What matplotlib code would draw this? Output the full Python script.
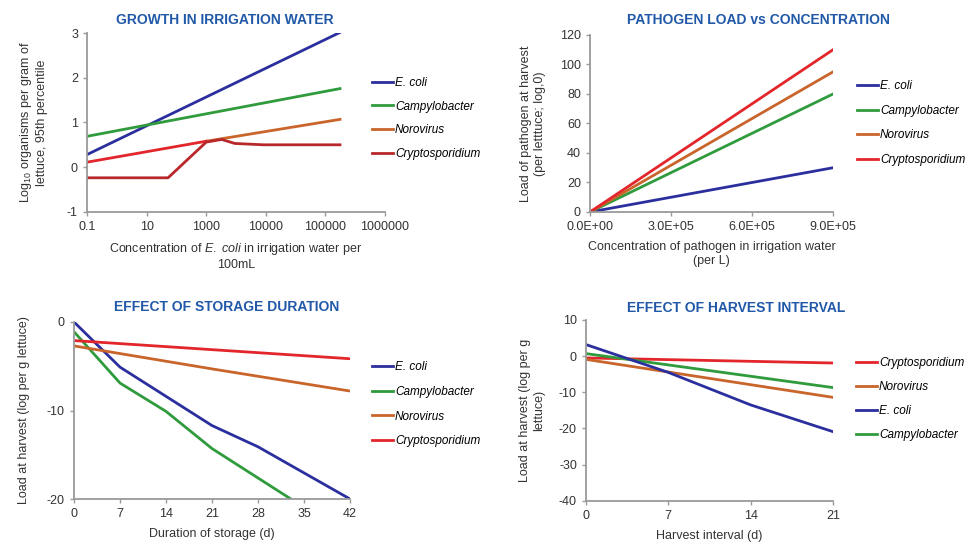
import matplotlib
matplotlib.use("Agg")
import matplotlib.pyplot as plt

plt.rcParams['font.family'] = ['Liberation Sans', 'DejaVu Sans']
plt.rcParams['axes.unicode_minus'] = False
plt.rcParams['mathtext.fontset'] = 'custom'
plt.rcParams['mathtext.rm'] = 'Liberation Sans'
plt.rcParams['mathtext.it'] = 'Liberation Sans:italic'

# ---------------- data ----------------
# Panel 1: growth in irrigation water (x = tick index on category-like log axis)
p1_tick_labels = ["0.1", "10", "1000", "10000", "100000", "1000000"]
p1_ecoli_x = [0, 4.245]
p1_ecoli_y = [0.28, 3.02]
p1_campy_x = [0, 4.245]
p1_campy_y = [0.69, 1.76]
p1_noro_x = [0, 2.0, 4.245]
p1_noro_y = [0.11, 0.58, 1.07]
p1_crypto_x = [0, 1.36, 2.0, 2.26, 2.48, 2.96, 4.245]
p1_crypto_y = [-0.24, -0.24, 0.56, 0.62, 0.53, 0.50, 0.50]

# Panel 2: pathogen load vs concentration
p2_conc = [0, 9.0e5]
p2_ecoli = [0, 30]
p2_campy = [0, 80]
p2_noro = [0, 95]
p2_crypto = [0, 110]
p2_tick_vals = [0, 3.0e5, 6.0e5, 9.0e5]
p2_tick_labels = ["0.0E+00", "3.0E+05", "6.0E+05", "9.0E+05"]

# Panel 3: storage duration
p3_ecoli_d = [0, 7, 21, 28, 42]
p3_ecoli = [0, -5.1, -11.7, -14.1, -20.0]
p3_campy_d = [0, 7, 14, 21, 33]
p3_campy = [-1.1, -6.9, -10.1, -14.3, -20.0]
p3_noro_d = [0, 21, 42]
p3_noro = [-2.7, -5.3, -7.8]
p3_crypto_d = [0, 42]
p3_crypto = [-2.1, -4.15]

# Panel 4: harvest interval
p4_ecoli_d = [0, 7, 14, 21]
p4_ecoli = [3.2, -4.5, -13.5, -20.9]
p4_campy_d = [0, 21]
p4_campy = [0.7, -8.7]
p4_noro_d = [0, 21]
p4_noro = [-0.9, -11.4]
p4_crypto_d = [0, 21]
p4_crypto = [-0.5, -1.9]

# ---------------- style ----------------
BLUE = '#2b2f9e'
GREEN = '#2f9b3c'
ORANGE = '#c9652b'
RED = '#e2262b'
DARKRED = '#b8282b'
TITLE = '#2159a8'
SPINE = '#9a9a9a'
TXT = '#333333'
LW = 2.0

W, H = 969, 547
fig = plt.figure(figsize=(W / 100, H / 100), dpi=100)


def add_axes(x0, x1, ytop, ybot):
    return fig.add_axes([x0 / W, 1 - ybot / H, (x1 - x0) / W, (ybot - ytop) / H])


def style(ax):
    for s in ['top', 'right']:
        ax.spines[s].set_visible(False)
    for s in ['left', 'bottom']:
        ax.spines[s].set_color(SPINE)
        ax.spines[s].set_linewidth(1.3)
    ax.tick_params(colors=SPINE, labelcolor=TXT, labelsize=9, length=3, width=1)


def title(xc, yc, text):
    fig.text(xc / W, 1 - yc / H, text, ha='center', va='center', color=TITLE,
             fontsize=10, fontweight='bold')


def legend(ax, x, ytop, spacing=1.08, order=None):
    h, l = ax.get_legend_handles_labels()
    if order is not None:
        h = [h[i] for i in order]
        l = [l[i] for i in order]
    ax.legend(h, l, loc='upper left', bbox_to_anchor=(x / W, 1 - ytop / H),
              bbox_transform=fig.transFigure, frameon=False, borderpad=0,
              borderaxespad=0, handlelength=1.8, handletextpad=0.15,
              labelspacing=spacing, prop={'style': 'italic', 'size': 8.5})


# ---------- Panel 1 ----------
ax1 = add_axes(87, 385, 33.3, 211.7)
ax1.plot(p1_ecoli_x, p1_ecoli_y, color=BLUE, lw=LW, label='E. coli')
ax1.plot(p1_campy_x, p1_campy_y, color=GREEN, lw=LW, label='Campylobacter')
ax1.plot(p1_noro_x[1:], p1_noro_y[1:], color=ORANGE, lw=LW, label='Norovirus')
ax1.plot(p1_noro_x[:2], p1_noro_y[:2], color=RED, lw=LW)
ax1.plot(p1_crypto_x, p1_crypto_y, color=DARKRED, lw=LW, label='Cryptosporidium')
ax1.set_xlim(0, 5)
ax1.set_ylim(-1, 3)
ax1.set_xticks(range(len(p1_tick_labels)))
ax1.set_xticklabels(p1_tick_labels)
ax1.set_yticks([-1, 0, 1, 2, 3])
style(ax1)
ax1.set_xlabel('Concentration of $\\it{E.}$ $\\it{coli}$ in irrigation water per\n100mL',
               fontsize=9, color=TXT, labelpad=6)
ax1.set_ylabel('Log$_{10}$ organisms per gram of\nlettuce, 95th percentile',
               fontsize=9, color=TXT, labelpad=14)
title(225, 20, 'GROWTH IN IRRIGATION WATER')
legend(ax1, 372, 77, spacing=0.98)

# ---------- Panel 2 ----------
ax2 = add_axes(590, 833, 35, 212)
ax2.plot(p2_conc, p2_ecoli, color=BLUE, lw=LW, label='E. coli')
ax2.plot(p2_conc, p2_campy, color=GREEN, lw=LW, label='Campylobacter')
ax2.plot(p2_conc, p2_noro, color=ORANGE, lw=LW, label='Norovirus')
ax2.plot(p2_conc, p2_crypto, color=RED, lw=LW, label='Cryptosporidium')
ax2.set_xlim(0, 9.0e5)
ax2.set_ylim(0, 120)
ax2.set_xticks(p2_tick_vals)
ax2.set_xticklabels(p2_tick_labels)
ax2.set_yticks(range(0, 121, 20))
style(ax2)
ax2.set_xlabel('Concentration of pathogen in irrigation water\n(per L)',
               fontsize=9, color=TXT, labelpad=6)
ax2.set_ylabel('Load of pathogen at harvest\n(per letttuce; log,0)',
               fontsize=9, color=TXT, labelpad=10)
title(758, 20, 'PATHOGEN LOAD vs CONCENTRATION')
legend(ax2, 857, 80)

# ---------- Panel 3 ----------
ax3 = add_axes(74, 350, 322, 499)
ax3.plot(p3_ecoli_d, p3_ecoli, color=BLUE, lw=LW, label='E. coli')
ax3.plot(p3_campy_d, p3_campy, color=GREEN, lw=LW, label='Campylobacter')
ax3.plot(p3_noro_d, p3_noro, color=ORANGE, lw=LW, label='Norovirus')
ax3.plot(p3_crypto_d, p3_crypto, color=RED, lw=LW, label='Cryptosporidium')
ax3.set_xlim(0, 42)
ax3.set_ylim(-20, 0)
ax3.set_xticks(range(0, 43, 7))
ax3.set_yticks([-20, -10, 0])
style(ax3)
ax3.set_xlabel('Duration of storage (d)', fontsize=9, color=TXT, labelpad=6)
ax3.set_ylabel('Load at harvest (log per g lettuce)', fontsize=9, color=TXT, labelpad=12)
title(227, 307, 'EFFECT OF STORAGE DURATION')
legend(ax3, 372, 361)

# ---------- Panel 4 ----------
ax4 = add_axes(586, 833, 320, 500.7)
ax4.plot(p4_crypto_d, p4_crypto, color=RED, lw=LW, label='Cryptosporidium')
ax4.plot(p4_noro_d, p4_noro, color=ORANGE, lw=LW, label='Norovirus')
ax4.plot(p4_campy_d, p4_campy, color=GREEN, lw=LW, label='Campylobacter')
ax4.plot(p4_ecoli_d, p4_ecoli, color=BLUE, lw=LW, label='E. coli')
ax4.set_xlim(0, 21)
ax4.set_ylim(-40, 10)
ax4.set_xticks([0, 7, 14, 21])
ax4.set_yticks(range(-40, 11, 10))
style(ax4)
ax4.set_xlabel('Harvest interval (d)', fontsize=9, color=TXT, labelpad=6)
ax4.set_ylabel('Load at harvest (log per g\nlettuce)', fontsize=9, color=TXT, labelpad=10)
title(736, 308, 'EFFECT OF HARVEST INTERVAL')
legend(ax4, 856, 357, spacing=1.02, order=[0, 1, 3, 2])

fig.savefig('out.png', dpi=100)
